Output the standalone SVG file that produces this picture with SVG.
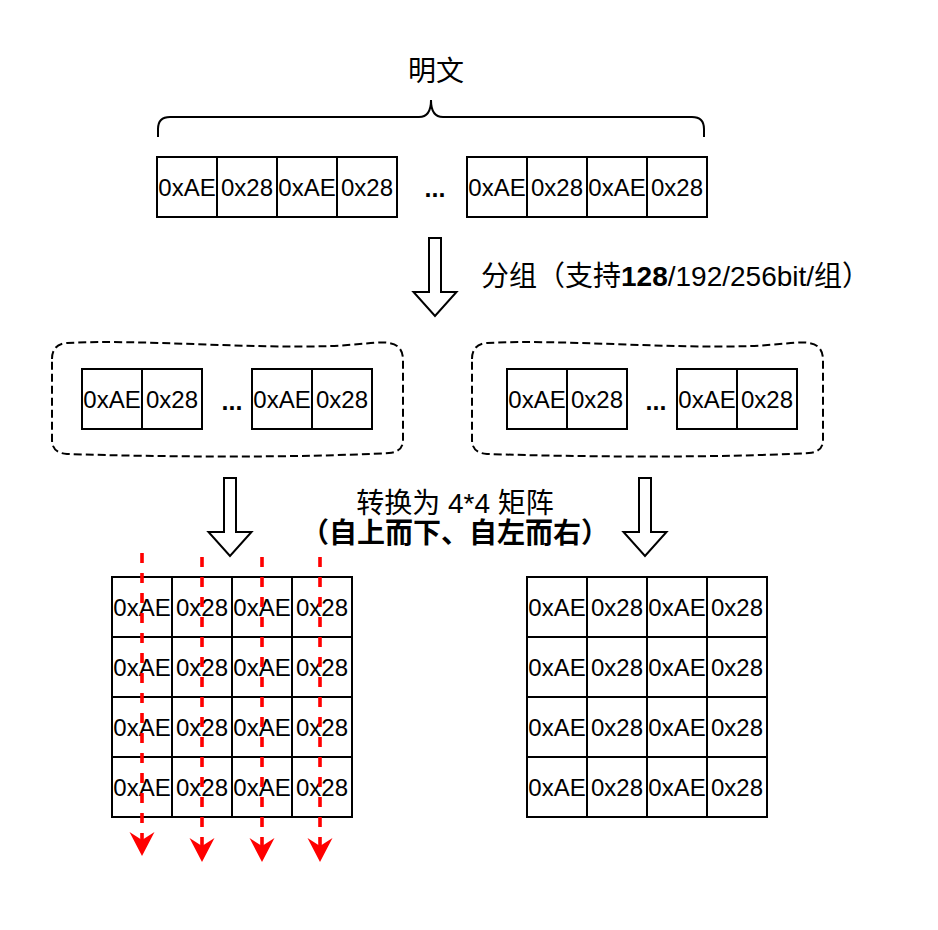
<svg xmlns="http://www.w3.org/2000/svg" width="938" height="930" viewBox="0 0 938 930">
<defs>
<style>
.c rect{fill:#fff;stroke:#000;stroke-width:2}
.c text,.t{font-family:"Liberation Sans","Noto Sans CJK SC",sans-serif;font-size:24px;fill:#000;text-anchor:middle}
.dots{font-family:"Liberation Sans",sans-serif;font-size:25px;font-weight:bold;text-anchor:middle;fill:#000}
.lbl{font-family:"Liberation Sans","Noto Sans CJK SC",sans-serif;fill:#000}
.blk{fill:#fff;stroke:#000;stroke-width:2;stroke-linejoin:miter}
.grp{fill:none;stroke:#000;stroke-width:2;stroke-dasharray:8 4}
.red{fill:none;stroke:#ff0000;stroke-width:3.6;stroke-dasharray:10 10}
</style>
<marker id="rh" markerUnits="userSpaceOnUse" viewBox="0 -13 25 26" refX="8" refY="0" markerWidth="25" markerHeight="26" orient="auto">
<path d="M0,-12.5 L24,0 L0,12.5 L8,0 Z" fill="#ff0000"/>
</marker>
<path id="grpShape" d="M 52,359 Q 52,344 67,343 C 140,339 250,349 330,346 C 360,345 380,341 389,343 Q 403,345 403,360 L 403,440 Q 403,452 389,453 C 300,458 160,457 67,454 Q 52,453 52,440 Z"/>
</defs>
<rect width="938" height="930" fill="#fff"/>

<g id="title"><text class="lbl" x="436" y="81" font-size="28" text-anchor="middle">明文</text></g>
<g id="brace"><path d="M158,137 L158,129 Q158,117 170,117 L419,117 Q431,117 431,100 Q431,117 443,117 L692,117 Q704,117 704,129 L704,137" fill="none" stroke="#000" stroke-width="2"/></g>

<g id="row-top">
<g id="t1" class="c"><rect x="157" y="157" width="60" height="60"/><text x="187" y="196">0xAE</text></g>
<g id="t2" class="c"><rect x="217" y="157" width="60" height="60"/><text x="247" y="196">0x28</text></g>
<g id="t3" class="c"><rect x="277" y="157" width="60" height="60"/><text x="307" y="196">0xAE</text></g>
<g id="t4" class="c"><rect x="337" y="157" width="60" height="60"/><text x="367" y="196">0x28</text></g>
<g id="tdots"><text class="dots" x="435" y="197">...</text></g>
<g id="t5" class="c"><rect x="467" y="157" width="60" height="60"/><text x="497" y="196">0xAE</text></g>
<g id="t6" class="c"><rect x="527" y="157" width="60" height="60"/><text x="557" y="196">0x28</text></g>
<g id="t7" class="c"><rect x="587" y="157" width="60" height="60"/><text x="617" y="196">0xAE</text></g>
<g id="t8" class="c"><rect x="647" y="157" width="60" height="60"/><text x="677" y="196">0x28</text></g>
</g>

<g id="label-split"><text class="lbl" x="481" y="286" font-size="28">分组（支持<tspan font-weight="bold">128</tspan>/192/256bit/组）</text></g>
<g id="label-matrix">
<text class="lbl" x="455" y="513" font-size="28" text-anchor="middle">转换为 4*4 矩阵</text>
<text class="lbl" x="455" y="543" font-size="28" font-weight="bold" text-anchor="middle">（自上而下、自左而右）</text>
</g>

<g id="group-left">
<use href="#grpShape" class="grp"/>
<g id="gl1" class="c"><rect x="82" y="369" width="60" height="60"/><text x="112" y="408">0xAE</text></g>
<g id="gl2" class="c"><rect x="142" y="369" width="60" height="60"/><text x="172" y="408">0x28</text></g>
<text class="dots" x="232" y="410">...</text>
<g id="gl3" class="c"><rect x="252" y="369" width="60" height="60"/><text x="282" y="408">0xAE</text></g>
<g id="gl4" class="c"><rect x="312" y="369" width="60" height="60"/><text x="342" y="408">0x28</text></g>
</g>

<g id="group-right">
<use href="#grpShape" class="grp" transform="translate(420,0)"/>
<g id="gr1" class="c"><rect x="507" y="369" width="60" height="60"/><text x="537" y="408">0xAE</text></g>
<g id="gr2" class="c"><rect x="567" y="369" width="60" height="60"/><text x="597" y="408">0x28</text></g>
<text class="dots" x="656" y="410">...</text>
<g id="gr3" class="c"><rect x="677" y="369" width="60" height="60"/><text x="707" y="408">0xAE</text></g>
<g id="gr4" class="c"><rect x="737" y="369" width="60" height="60"/><text x="767" y="408">0x28</text></g>
</g>

<g id="matrix-left">
<g id="ml11" class="c"><rect x="112" y="577" width="60" height="60"/><text x="142" y="616">0xAE</text></g>
<g id="ml12" class="c"><rect x="172" y="577" width="60" height="60"/><text x="202" y="616">0x28</text></g>
<g id="ml13" class="c"><rect x="232" y="577" width="60" height="60"/><text x="262" y="616">0xAE</text></g>
<g id="ml14" class="c"><rect x="292" y="577" width="60" height="60"/><text x="322" y="616">0x28</text></g>
<g id="ml21" class="c"><rect x="112" y="637" width="60" height="60"/><text x="142" y="676">0xAE</text></g>
<g id="ml22" class="c"><rect x="172" y="637" width="60" height="60"/><text x="202" y="676">0x28</text></g>
<g id="ml23" class="c"><rect x="232" y="637" width="60" height="60"/><text x="262" y="676">0xAE</text></g>
<g id="ml24" class="c"><rect x="292" y="637" width="60" height="60"/><text x="322" y="676">0x28</text></g>
<g id="ml31" class="c"><rect x="112" y="697" width="60" height="60"/><text x="142" y="736">0xAE</text></g>
<g id="ml32" class="c"><rect x="172" y="697" width="60" height="60"/><text x="202" y="736">0x28</text></g>
<g id="ml33" class="c"><rect x="232" y="697" width="60" height="60"/><text x="262" y="736">0xAE</text></g>
<g id="ml34" class="c"><rect x="292" y="697" width="60" height="60"/><text x="322" y="736">0x28</text></g>
<g id="ml41" class="c"><rect x="112" y="757" width="60" height="60"/><text x="142" y="796">0xAE</text></g>
<g id="ml42" class="c"><rect x="172" y="757" width="60" height="60"/><text x="202" y="796">0x28</text></g>
<g id="ml43" class="c"><rect x="232" y="757" width="60" height="60"/><text x="262" y="796">0xAE</text></g>
<g id="ml44" class="c"><rect x="292" y="757" width="60" height="60"/><text x="322" y="796">0x28</text></g>
</g>

<g id="matrix-right">
<g id="mr11" class="c"><rect x="527" y="577" width="60" height="60"/><text x="557" y="616">0xAE</text></g>
<g id="mr12" class="c"><rect x="587" y="577" width="60" height="60"/><text x="617" y="616">0x28</text></g>
<g id="mr13" class="c"><rect x="647" y="577" width="60" height="60"/><text x="677" y="616">0xAE</text></g>
<g id="mr14" class="c"><rect x="707" y="577" width="60" height="60"/><text x="737" y="616">0x28</text></g>
<g id="mr21" class="c"><rect x="527" y="637" width="60" height="60"/><text x="557" y="676">0xAE</text></g>
<g id="mr22" class="c"><rect x="587" y="637" width="60" height="60"/><text x="617" y="676">0x28</text></g>
<g id="mr23" class="c"><rect x="647" y="637" width="60" height="60"/><text x="677" y="676">0xAE</text></g>
<g id="mr24" class="c"><rect x="707" y="637" width="60" height="60"/><text x="737" y="676">0x28</text></g>
<g id="mr31" class="c"><rect x="527" y="697" width="60" height="60"/><text x="557" y="736">0xAE</text></g>
<g id="mr32" class="c"><rect x="587" y="697" width="60" height="60"/><text x="617" y="736">0x28</text></g>
<g id="mr33" class="c"><rect x="647" y="697" width="60" height="60"/><text x="677" y="736">0xAE</text></g>
<g id="mr34" class="c"><rect x="707" y="697" width="60" height="60"/><text x="737" y="736">0x28</text></g>
<g id="mr41" class="c"><rect x="527" y="757" width="60" height="60"/><text x="557" y="796">0xAE</text></g>
<g id="mr42" class="c"><rect x="587" y="757" width="60" height="60"/><text x="617" y="796">0x28</text></g>
<g id="mr43" class="c"><rect x="647" y="757" width="60" height="60"/><text x="677" y="796">0xAE</text></g>
<g id="mr44" class="c"><rect x="707" y="757" width="60" height="60"/><text x="737" y="796">0x28</text></g>
</g>

<g id="connectors">
<path class="blk" d="M429,238 L441,238 L441,292 L456.5,292 L435,316 L413.5,292 L429,292 Z"/>
<path class="blk" d="M224,478 L236,478 L236,532 L251.5,532 L230,556 L208.5,532 L224,532 Z"/>
<path class="blk" d="M639,478 L651,478 L651,532 L666.5,532 L645,556 L623.5,532 L639,532 Z"/>
<path class="red" d="M142,553 L142,840" marker-end="url(#rh)"/>
<path class="red" d="M202,557 L202,846" marker-end="url(#rh)"/>
<path class="red" d="M262,557 L262,846" marker-end="url(#rh)"/>
<path class="red" d="M320,557 L320,846" marker-end="url(#rh)"/>
</g>
</svg>
